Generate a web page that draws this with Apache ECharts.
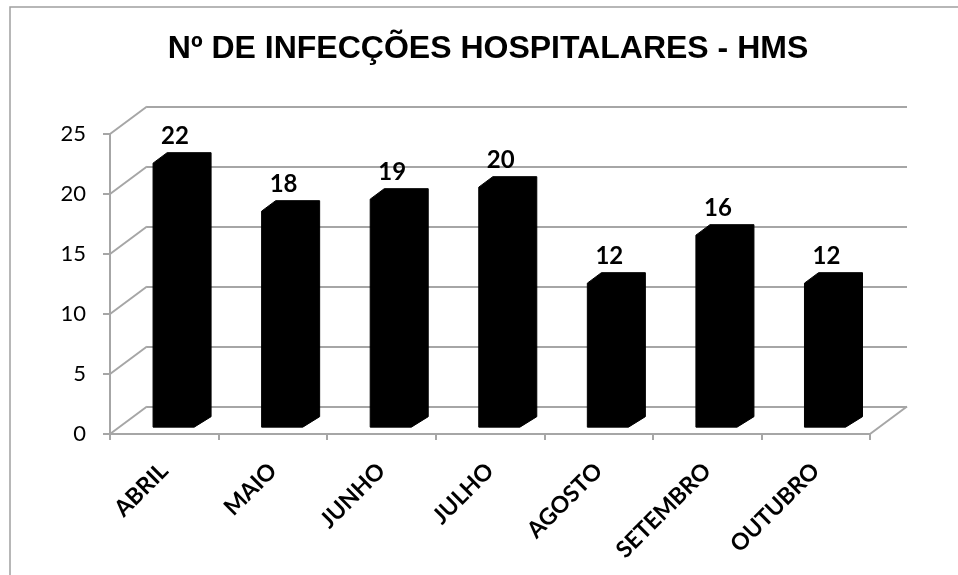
<!DOCTYPE html>
<html>
<head>
<meta charset="utf-8">
<script src="https://cdn.jsdelivr.net/npm/echarts@6/dist/echarts.min.js"></script>
<style>
  html, body { margin: 0; padding: 0; background: #fff; }
  #chart { width: 958px; height: 575px; }
</style>
</head>
<body>
<div id="chart"></div>
<script>
const months = ['ABRIL', 'MAIO', 'JUNHO', 'JULHO', 'AGOSTO', 'SETEMBRO', 'OUTUBRO'];
const infeccoes = [22, 18, 19, 20, 12, 16, 12];
const yTicks = [0, 5, 10, 15, 20, 25];

// profundidade do "3D" (deslocamento da parede do fundo, em px)
const DX = 37, DY = -27.5;
const BAR_Z0 = 0.25, BAR_Z1 = 0.63, BAR_W = 0.405;
const GRID_COLOR = '#a6a6a6';

const chart = echarts.init(document.getElementById('chart'));

function renderBar(params, api) {
  const idx = api.value(0);
  const v = api.value(1);
  const base = api.coord([idx, 0]);
  const top = api.coord([idx, v]);
  const band = api.size([1, 0])[0];
  const w = band * BAR_W;
  const x0 = base[0] - w / 2 + DX * BAR_Z0 + 1.5;
  const x1 = x0 + w;
  const yb = base[1] + DY * BAR_Z0;
  const yt = top[1] + DY * BAR_Z0;
  const ddx = DX * (BAR_Z1 - BAR_Z0), ddy = DY * (BAR_Z1 - BAR_Z0);
  return {
    type: 'group',
    children: [{
      type: 'polygon',
      shape: {
        points: [[x0, yb], [x1 - ddx * 0.2, yb], [x1 + ddx, yb + ddy], [x1 + ddx, yt + ddy],
                 [x0 + ddx, yt + ddy], [x0, yt]]
      },
      style: { fill: '#000', stroke: '#000', lineWidth: 1 }
    }, {
      type: 'text',
      x: x0 + w / 2,
      y: yt + ddy - 4,
      style: {
        text: String(v),
        fill: '#000',
        font: 'bold 24px Lato',
        align: 'center',
        verticalAlign: 'bottom'
      }
    }]
  };
}

// linhas diagonais da parede lateral e do chao
function renderWall(params, api) {
  const v = api.value(1);
  const p = api.coord([0, v]);
  const cs = params.coordSys;
  const children = [{
    type: 'line',
    shape: { x1: cs.x, y1: p[1], x2: cs.x + DX, y2: p[1] + DY },
    style: { stroke: GRID_COLOR, lineWidth: 2 }
  }];
  if (v === 0) {
    children.push({
      type: 'line',
      shape: { x1: cs.x + cs.width, y1: p[1], x2: cs.x + cs.width + DX, y2: p[1] + DY },
      style: { stroke: GRID_COLOR, lineWidth: 2 }
    });
  }
  return { type: 'group', children: children };
}

const option = {
  animation: false,
  title: {
    text: 'Nº DE INFECÇÕES HOSPITALARES - HMS',
    left: 488,
    top: 33,
    padding: 0,
    textAlign: 'center',
    textStyle: { fontFamily: 'Liberation Sans', fontWeight: 'bold', fontSize: 32, color: '#000' }
  },
  graphic: [{
    type: 'rect',
    shape: { x: 10, y: 7, width: 1000, height: 600 },
    style: { fill: 'none', stroke: '#a0a0a0', lineWidth: 1.5 },
    silent: true
  }],
  grid: [
    { left: 110, top: 134, width: 760, height: 300 },
    { left: 110 + DX, top: 134 + DY, width: 760, height: 300 }
  ],
  xAxis: [{
    type: 'category',
    gridIndex: 0,
    data: months,
    axisLine: { lineStyle: { color: GRID_COLOR, width: 2 } },
    axisTick: { show: true, interval: 0, length: 6, lineStyle: { color: GRID_COLOR, width: 2 } },
    axisLabel: {
      interval: 0,
      rotate: 45,
      margin: 33,
      color: '#000',
      fontFamily: 'Lato',
      fontWeight: 'bold',
      fontSize: 23
    }
  }, {
    type: 'category',
    gridIndex: 1,
    data: months,
    show: false
  }],
  yAxis: [{
    type: 'value',
    gridIndex: 0,
    min: 0,
    max: 25,
    interval: 5,
    axisLine: { show: true, lineStyle: { color: GRID_COLOR, width: 2 } },
    axisTick: { show: true, length: 7, lineStyle: { color: GRID_COLOR, width: 2 } },
    splitLine: { show: false },
    axisLabel: { margin: 24, color: '#000', fontFamily: 'Lato', fontSize: 22 }
  }, {
    type: 'value',
    gridIndex: 1,
    min: 0,
    max: 25,
    interval: 5,
    axisLine: { show: false },
    axisTick: { show: false },
    axisLabel: { show: false },
    splitLine: { show: true, lineStyle: { color: GRID_COLOR, width: 2 } }
  }],
  series: [{
    type: 'custom',
    xAxisIndex: 0,
    yAxisIndex: 0,
    clip: false,
    silent: true,
    renderItem: renderWall,
    data: yTicks.map(v => [0, v]),
    z: 1
  }, {
    type: 'custom',
    xAxisIndex: 0,
    yAxisIndex: 0,
    clip: false,
    renderItem: renderBar,
    data: infeccoes.map((v, i) => [i, v]),
    z: 5
  }]
};

chart.setOption(option);
</script>
</body>
</html>
